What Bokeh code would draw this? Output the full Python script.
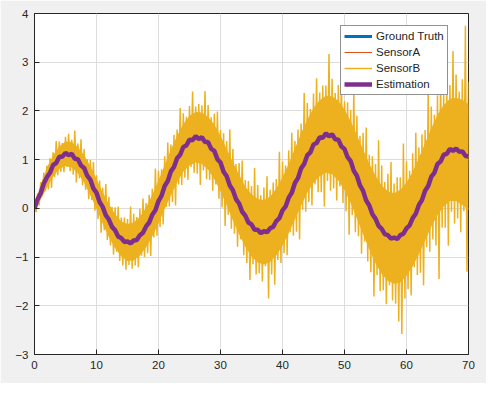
from bokeh.plotting import figure
from bokeh.models import Legend, LegendItem, Range1d, FixedTicker
from bokeh.embed import file_html
from bokeh.resources import INLINE

x_ticks = [0, 10, 20, 30, 40, 50, 60, 70]
y_ticks = [-3, -2, -1, 0, 1, 2, 3, 4]

# ground truth sampled every 1.0 s
t_truth = list(range(71))
ground_truth = [0.00, 0.33, 0.63, 0.87, 1.04, 1.12, 1.10, 0.99, 0.81, 0.57,
                0.30, 0.01, -0.25, -0.47, -0.63, -0.70, -0.68, -0.57, -0.39, -0.15,
                0.13, 0.44, 0.74, 1.01, 1.24, 1.39, 1.46, 1.44, 1.34, 1.16,
                0.92, 0.64, 0.35, 0.08, -0.17, -0.35, -0.46, -0.49, -0.43, -0.28,
                -0.06, 0.20, 0.50, 0.80, 1.07, 1.29, 1.44, 1.52, 1.50, 1.39,
                1.20, 0.95, 0.65, 0.34, 0.04, -0.23, -0.44, -0.57, -0.62, -0.57,
                -0.43, -0.22, 0.05, 0.34, 0.63, 0.89, 1.08, 1.20, 1.21, 1.15, 1.05]

sensor_a = [0.05, 0.38, 0.58, 0.93, 1.00, 1.18, 1.05, 1.04, 0.76, 0.62,
            0.25, 0.06, -0.30, -0.42, -0.68, -0.64, -0.73, -0.52, -0.44, -0.10,
            0.08, 0.49, 0.69, 1.06, 1.19, 1.44, 1.41, 1.49, 1.29, 1.21,
            0.87, 0.69, 0.30, 0.13, -0.22, -0.30, -0.51, -0.44, -0.48, -0.23,
            -0.11, 0.25, 0.45, 0.85, 1.02, 1.34, 1.39, 1.57, 1.45, 1.44,
            1.15, 1.00, 0.60, 0.39, -0.01, -0.18, -0.49, -0.52, -0.67, -0.52,
            -0.48, -0.17, 0.00, 0.39, 0.58, 0.94, 1.03, 1.25, 1.16, 1.20, 1.00]

# dense part of the sensor B cloud (read every 1.0 s): upper / lower edge
sensor_b_hi = [0.10, 0.48, 0.84, 1.09, 1.27, 1.37, 1.36, 1.26, 1.09, 0.87,
               0.61, 0.33, 0.09, -0.12, -0.27, -0.32, -0.29, -0.17, 0.02, 0.28,
               0.57, 0.89, 1.21, 1.49, 1.73, 1.90, 1.98, 1.97, 1.88, 1.72,
               1.49, 1.22, 0.95, 0.69, 0.45, 0.29, 0.19, 0.17, 0.24, 0.41,
               0.64, 0.91, 1.23, 1.54, 1.82, 2.06, 2.22, 2.31, 2.30, 2.21,
               2.03, 1.79, 1.51, 1.21, 0.92, 0.67, 0.47, 0.35, 0.31, 0.38,
               0.53, 0.75, 1.04, 1.34, 1.64, 1.92, 2.12, 2.25, 2.27, 2.23, 2.14]
sensor_b_lo = [-0.10, 0.18, 0.42, 0.65, 0.81, 0.87, 0.84, 0.72, 0.53, 0.27,
               -0.01, -0.31, -0.59, -0.82, -0.99, -1.08, -1.07, -0.97, -0.80, -0.58,
               -0.31, -0.01, 0.27, 0.53, 0.75, 0.88, 0.94, 0.91, 0.80, 0.60,
               0.35, 0.06, -0.25, -0.53, -0.79, -0.99, -1.11, -1.15, -1.10, -0.97,
               -0.76, -0.51, -0.23, 0.06, 0.32, 0.52, 0.66, 0.73, 0.70, 0.57,
               0.37, 0.11, -0.21, -0.53, -0.84, -1.13, -1.35, -1.49, -1.55, -1.52,
               -1.39, -1.19, -0.94, -0.66, -0.38, -0.14, 0.04, 0.15, 0.15, 0.07, -0.04]

# sensor B samples every 0.25 s
b_step = 0.25
sensor_b = [
    0.17, -0.08, 0.31, 0.06, 0.54, 0.25, 0.73, 0.35, 0.88, 0.39, 1.03, 0.42,
    1.15, 0.64, 1.38, 0.68, 1.37, 0.75, 1.34, 0.74, 1.47, 0.85, 1.53, 0.76,
    1.41, 0.69, 1.60, 0.53, 1.33, 0.62, 1.42, 0.47, 1.22, 0.38, 1.01, 0.19,
    0.99, 0.17, 0.95, -0.05, 0.68, -0.22, 0.57, -0.50, 0.42, -0.45, 0.50, -0.65,
    0.24, -0.76, 0.03, -0.95, 0.02, -0.89, 0.04, -1.08, -0.19, -1.17, -0.19, -1.26,
    -0.22, -1.16, 0.04, -1.24, -0.11, -1.17, -0.18, -1.21, -0.01, -0.97, 0.20, -1.00,
    0.11, -0.92, 0.28, -0.98, 0.40, -0.60, 0.82, -0.56, 0.77, -0.38, 0.80, -0.33,
    1.07, 0.03, 1.35, 0.04, 1.31, 0.13, 1.51, 0.06, 1.62, 0.49, 2.06, 0.48,
    1.95, 0.63, 1.88, 0.58, 2.10, 0.85, 2.40, 0.73, 2.09, 0.71, 2.14, 0.48,
    2.11, 0.78, 2.41, 0.60, 2.12, 0.58, 1.87, 0.36, 1.94, 0.49, 1.99, 0.20,
    1.61, 0.02, 1.54, -0.36, 1.38, -0.13, 1.62, -0.42, 1.22, -0.52, 0.91, -0.79,
    0.93, -0.64, 0.98, -0.96, 0.58, -1.12, 0.56, -1.47, 0.46, -1.15, 0.83, -1.36,
    0.48, -1.33, 0.27, -1.50, 0.43, -1.19, 0.66, -1.85, 0.38, -1.36, 0.53, -1.57,
    0.60, -1.06, 1.16, -1.12, 0.96, -0.92, 0.88, -0.96, 1.19, -0.49, 1.55, -0.56,
    1.38, -0.48, 1.62, -0.64, 1.74, -0.03, 2.37, -0.07, 2.16, 0.13, 2.04, 0.06,
    2.36, 0.49, 2.67, 0.33, 2.38, 0.33, 2.52, 0.04, 2.52, 0.56, 3.17, 0.36,
    2.66, 0.41, 2.37, 0.16, 2.53, 0.45, 2.69, 0.11, 2.20, -0.06, 2.18, -0.54,
    2.02, -0.14, 2.42, -0.49, 1.90, -0.57, 1.49, -0.93, 1.55, -0.68, 1.66, -1.09,
    1.10, -1.31, 1.07, -1.81, 0.91, -1.37, 1.40, -1.70, 0.88, -1.68, 0.54, -1.97,
    0.71, -1.58, 0.95, -1.89, 0.51, -1.96, 0.64, -2.32, 0.64, -2.58, 1.33, -1.85,
    0.96, -1.66, 0.77, -1.79, 1.13, -1.21, 1.55, -1.37, 1.25, -1.32, 1.52, -1.58,
    1.61, -0.80, 2.41, -0.89, 2.09, -0.64, 1.92, -0.76, 2.32, -1.45, 2.72, -0.40,
    2.34, -0.40, 2.52, -0.77, 2.53, -0.07, 3.23, -0.31, 2.75, -0.21, 2.40, -0.49,
    2.65, -0.06, 3.75, -1.30, 2.60]
t_b = [i * b_step for i in range(len(sensor_b))]

# estimation sampled every 0.5 s
e_step = 0.5
estimation = [
    0.00, 0.19, 0.31, 0.51, 0.64, 0.73, 0.89, 0.93, 1.06, 1.06, 1.14, 1.09, 1.12, 1.02,
    1.01, 0.88, 0.83, 0.67, 0.59, 0.41, 0.32, 0.13, 0.03, -0.14, -0.23, -0.38, -0.45,
    -0.58, -0.61, -0.69, -0.68, -0.72, -0.66, -0.65, -0.55, -0.50, -0.37, -0.29, -0.13,
    -0.04, 0.15, 0.26, 0.46, 0.56, 0.76, 0.85, 1.03, 1.10, 1.26, 1.29, 1.41, 1.40, 1.48,
    1.42, 1.46, 1.36, 1.36, 1.22, 1.18, 1.01, 0.94, 0.75, 0.66, 0.47, 0.37, 0.19, 0.10,
    -0.07, -0.15, -0.29, -0.33, -0.44, -0.44, -0.51, -0.47, -0.49, -0.41, -0.38, -0.26,
    -0.20, -0.04, 0.04, 0.22, 0.32, 0.52, 0.62, 0.82, 0.91, 1.09, 1.15, 1.31, 1.34, 1.46,
    1.45, 1.54, 1.48, 1.52, 1.42, 1.41, 1.27, 1.22, 1.05, 0.97, 0.77, 0.67, 0.47, 0.36,
    0.16, 0.06, -0.12, -0.21, -0.36, -0.42, -0.53, -0.55, -0.62, -0.60, -0.63, -0.55,
    -0.52, -0.41, -0.35, -0.20, -0.11, 0.07, 0.17, 0.36, 0.46, 0.65, 0.73, 0.91, 0.96,
    1.10, 1.12, 1.22, 1.18, 1.23, 1.16, 1.17, 1.08, 1.06]
t_e = [i * e_step for i in range(len(estimation))]

labels = ["Ground Truth", "SensorA", "SensorB", "Estimation"]
colors = ["#0072BD", "#D95319", "#EDB120", "#7E2F8E"]

FONT = "Liberation Sans"
TXT = "#262626"

p = figure(width=486, height=383, output_backend="svg", toolbar_location=None,
           x_range=Range1d(0, 70), y_range=Range1d(-3, 4),
           min_border_left=34, min_border_right=18, min_border_top=13,
           min_border_bottom=29, background_fill_color="white",
           border_fill_color="#f0f0f0", outline_line_color=TXT,
           outline_line_width=1)

r_gt = p.line(t_truth, ground_truth, line_color=colors[0], line_width=3)
r_a = p.line(t_truth, sensor_a, line_color=colors[1], line_width=1)
p.varea(x=t_truth, y1=sensor_b_lo, y2=sensor_b_hi, fill_color=colors[2])
r_b = p.line(t_b, sensor_b, line_color=colors[2], line_width=1.5)
r_e = p.line(t_e, estimation, line_color=colors[3], line_width=4.5)

for ax in (p.xaxis[0], p.yaxis[0]):
    ax.axis_line_color = TXT
    ax.major_tick_line_color = TXT
    ax.major_tick_in = 5
    ax.major_tick_out = 0
    ax.minor_tick_line_color = None
    ax.major_label_text_font = FONT
    ax.major_label_text_font_size = "11.5px"
    ax.major_label_text_color = TXT
    ax.major_label_standoff = 6
p.xaxis.ticker = FixedTicker(ticks=x_ticks)
p.yaxis.ticker = FixedTicker(ticks=y_ticks)

for g in (p.xgrid[0], p.ygrid[0]):
    g.grid_line_color = "#dcdcdc"
    g.grid_line_width = 1
p.xgrid.ticker = FixedTicker(ticks=x_ticks)
p.ygrid.ticker = FixedTicker(ticks=y_ticks)

legend = Legend(items=[LegendItem(label=l, renderers=[r]) for l, r in
                       zip(labels, [r_gt, r_a, r_b, r_e])],
                location=(306, 259), orientation="vertical",
                label_text_font=FONT, label_text_font_size="11.5px",
                label_text_color=TXT, glyph_width=28, glyph_height=14,
                label_height=14, label_standoff=4, spacing=2, padding=3,
                margin=0, border_line_color=TXT, border_line_width=1,
                background_fill_color="white", background_fill_alpha=1.0)
p.add_layout(legend, "center")

html = file_html(p, INLINE)
html = html.replace("<body>", '<body style="background-color:#f0f0f0;">', 1)
open("out.html", "w").write(html)
